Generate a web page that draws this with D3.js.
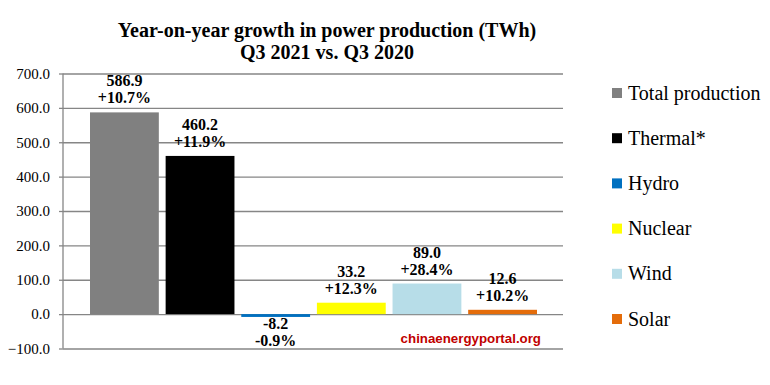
<!DOCTYPE html>
<html>
<head>
<meta charset="utf-8">
<script src="https://cdn.jsdelivr.net/npm/d3@7"></script>
<style>
  body { margin: 0; background: #fff; }
  svg { display: block; }
  .grid line { stroke: #868686; stroke-width: 1.3; }
  .lbl { font-family: "Liberation Serif", serif; font-size: 16px; font-weight: bold; text-anchor: middle; }
  .leg { font-family: "Liberation Serif", serif; font-size: 20px; }
</style>
</head>
<body>
<div id="chart"></div>
<script>
var categories = ["Total production", "Thermal*", "Hydro", "Nuclear", "Wind", "Solar"];
var values = [586.9, 460.2, -8.2, 33.2, 89.0, 12.6];
var growth = ["+10.7%", "+11.9%", "-0.9%", "+12.3%", "+28.4%", "+10.2%"];
var colors = ["#808080", "#000000", "#0070c0", "#ffff00", "#b7dde8", "#e46c0a"];
var yTicks = [-100, 0, 100, 200, 300, 400, 500, 600, 700];

var width = 770;
var height = 385;
var plotLeft = 63, plotRight = 563, plotTop = 73.5, plotBottom = 348.5;

var svg = d3.select('#chart')
	.append('svg')
	.attr('width', width)
	.attr('height', height);

var y = d3.scaleLinear().domain([-100, 700]).range([plotBottom, plotTop]);
var x = d3.scaleBand().domain(categories).range([90, 537]).paddingInner(0.09);

// title
var title = svg.append('text')
	.attr('x', 327)
	.attr('y', 37)
	.attr('text-anchor', 'middle')
	.style('font-family', '"Liberation Serif", serif')
	.style('font-size', '20px')
	.style('font-weight', 'bold');
title.append('tspan').attr('x', 327).text('Year-on-year growth in power production (TWh)');
title.append('tspan').attr('x', 327).attr('dy', 22).text('Q3 2021 vs. Q3 2020');

// gridlines + axis
svg.append('g')
	.attr('class', 'grid')
	.attr('transform', 'translate(' + plotLeft + ',0)')
	.call(d3.axisLeft(y).tickValues(yTicks).tickSize(-(plotRight - plotLeft)).tickFormat(''))
	.call(function (g) { g.select('.domain').remove(); });

var axis = svg.append('g')
	.attr('transform', 'translate(' + plotLeft + ',0)')
	.call(d3.axisLeft(y).tickValues(yTicks).tickSize(4).tickPadding(9).tickFormat(d3.format('.1f')));
axis.attr('font-family', '"Liberation Serif", serif').attr('font-size', 15);
axis.select('.domain').attr('stroke', '#868686').attr('stroke-width', 1.3).attr('d', 'M0,' + plotTop + 'V' + plotBottom);
axis.selectAll('.tick line').attr('stroke', '#868686').attr('stroke-width', 1.3);
axis.selectAll('.tick text').attr('fill', '#000');

// bars
svg.selectAll('rect.bar')
	.data(categories)
	.enter()
	.append('rect')
	.attr('class', 'bar')
	.attr('x', function (d) { return x(d); })
	.attr('width', x.bandwidth())
	.attr('y', function (d, i) { return y(Math.max(0, values[i])); })
	.attr('height', function (d, i) { return Math.abs(y(values[i]) - y(0)); })
	.attr('fill', function (d, i) { return colors[i]; });

// data labels
categories.forEach(function (d, i) {
    var cx = x(d) + x.bandwidth() / 2;
    var v = values[i];
    var y1, y2;
    if (v >= 0) {
	y2 = y(v) - 9;
	y1 = y2 - 17;
    } else {
	y1 = y(v) + 12;
	y2 = y1 + 17;
    }
    svg.append('text').attr('class', 'lbl').attr('x', cx).attr('y', y1).text(v.toFixed(1));
    svg.append('text').attr('class', 'lbl').attr('x', cx).attr('y', y2).text(growth[i]);
});

// watermark
svg.append('text')
	.attr('x', 541)
	.attr('y', 343)
	.attr('text-anchor', 'end')
	.style('font-family', '"Liberation Sans", sans-serif')
	.style('font-size', '13.3px')
	.style('font-weight', 'bold')
	.style('fill', '#c00000')
	.text('chinaenergyportal.org');

// legend
var leg = svg.selectAll('g.legend')
	.data(categories)
	.enter()
	.append('g')
	.attr('class', 'legend')
	.attr('transform', function (d, i) { return 'translate(612,' + (93 + i * 45.2) + ')'; });
leg.append('rect')
	.attr('x', 0)
	.attr('y', -5)
	.attr('width', 10)
	.attr('height', 10)
	.attr('fill', function (d, i) { return colors[i]; });
leg.append('text')
	.attr('class', 'leg')
	.attr('x', 16)
	.attr('y', 0)
	.attr('dy', '0.33em')
	.text(function (d) { return d; });
</script>
</body>
</html>
